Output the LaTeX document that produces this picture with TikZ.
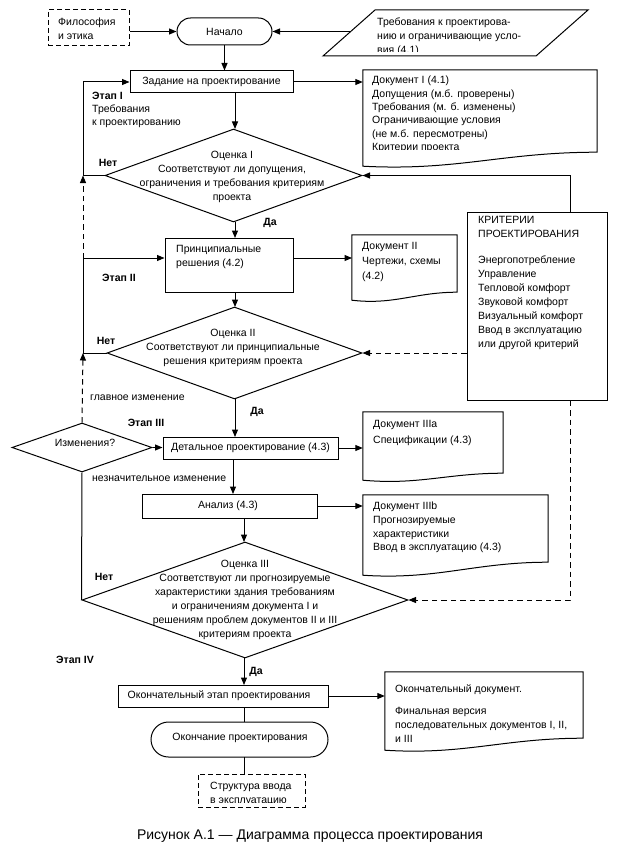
\documentclass[tikz,border=0pt]{standalone}
\usepackage{fontspec}
\setmainfont{Liberation Sans}
\usetikzlibrary{arrows.meta,shapes.geometric,calc}
\newcommand\ft{\fontsize{10.5pt}{14pt}\selectfont}
\newcommand\docout[3]{%
  \draw[ln] (#1.north west) -- (#1.north east) -- (#1.south east)
    .. controls ($(#1.south east)+(-#3,0)$) and ($(#1.south west)+(#3,#2+5)$) .. ($(#1.south west)+(0,#2)$) -- cycle;}
\tikzset{
  ln/.style={line width=1pt},
  frame/.style={rectangle, inner sep=0pt, draw=none},
  boxf/.style={rectangle, inner sep=0pt, draw, line width=1pt},
  dmd/.style={diamond, inner sep=0pt, draw, line width=1pt},
  txt/.style={inner sep=0pt, font=\ft, align=left},
  ctxt/.style={inner sep=0pt, font=\ft, align=center},
  btxt/.style={inner sep=0pt, font=\ft\bfseries},
  arr/.style={ln, -{Triangle[length=7.5pt,width=6pt]}},
  darr/.style={ln, dash pattern=on 5.5pt off 4pt, -{Triangle[length=7.5pt,width=6pt]}},
}
\begin{document}
\begin{tikzpicture}[x=1pt,y=-1pt]
\useasboundingbox (0,0) rectangle (616,848);
\fill[white] (0,0) rectangle (616,848);

% ---- top row
\node[boxf, dash pattern=on 5pt off 3pt, minimum width=81pt, minimum height=36pt] (phil) at (88.5,28) {};
\node[txt, anchor=west] (philt) at (58,29) {Философия\\и этика};
\node[boxf, rounded corners=13.5pt, minimum width=95pt, minimum height=27pt] (nach) at (224.5,31.5) {};
\node[ctxt] (nacht) at (nach) {Начало};
\draw[ln] (375,10) -- (588,10) -- (536,56) -- (323,56) -- cycle;
\coordinate (parL) at (350,31.5);
\begin{scope}
\clip (320,0) rectangle (600,51.5);
\node[txt, anchor=west] (part) at (377,36.5) {Требования к проектирова-\\нию и ограничивающие усло-\\вия (4.1)};
\end{scope}
\draw[arr] (phil.east |- nach.west) -- (nach.west);
\draw[arr] (parL) -- (nach.east);

% ---- stage I
\node[boxf, minimum width=163pt, minimum height=22pt] (zad) at (211.5,82) {};
\node[ctxt] (zadt) at (zad) {Задание на проектирование};
\draw[arr] (nach.south) -- (nach.south |- zad.north);

\node[frame, minimum width=234pt, minimum height=82pt] (doc1) at (480,111) {};
\docout{doc1}{14}{95}
\begin{scope}
\clip (363,70) rectangle (597,149.5);
\node[txt, anchor=west, font=\fontsize{10.5pt}{13.4pt}\selectfont] (doc1t) at (372,114.5) {Документ I (4.1)\\Допущения (м.б. проверены)\\Требования (м. б. изменены)\\Ограничивающие условия\\(не м.б. пересмотрены)\\Критерии проекта};
\end{scope}
\draw[arr] (zad.east) -- (zad.east -| doc1.west);

\node[txt, anchor=west, font=\fontsize{10.5pt}{13pt}\selectfont] (et1) at (92,110) {\textbf{Этап I}\\Требования\\к проектированию};

\node[dmd, minimum width=257pt, minimum height=93pt] (o1) at (233.5,175.5) {};
\node[ctxt] (o1t) at (232,176.5) {Оценка I\\Соответствуют ли допущения,\\ограничения и требования критериям\\проекта};
\draw[arr] (235,93) -- (235,129);
\node[btxt] (no1) at (108,163) {Нет};
\node[btxt] (yes1) at (270,223) {Да};
\coordinate (j1) at (83,175.5);
\draw[arr] (o1.west) -- (j1) |- (zad.west);

% ---- criteria box
\node[boxf, minimum width=140pt, minimum height=188pt] (crit) at (537,306) {};
\node[txt, anchor=north west] (critt) at (478,216) {КРИТЕРИИ\\ПРОЕКТИРОВАНИЯ\\[12pt]Энергопотребление\\Управление\\Тепловой комфорт\\Звуковой комфорт\\Визуальный комфорт\\Ввод в эксплуатацию\\или другой критерий};
\draw[arr] ([xshift=33pt]crit.north) |- (o1.east);

% ---- stage II
\node[boxf, minimum width=128pt, minimum height=54pt] (pr) at (229,265) {};
\node[txt, anchor=west] (prt) at (176,257) {Принципиальные\\решения (4.2)};
\draw[arr] (235,222) -- (235,238);
\node[btxt] (et2) at (119,278) {Этап II};

\node[frame, minimum width=105pt, minimum height=57pt] (doc2) at (404.5,263.5) {};
\docout{doc2}{8}{42}
\node[txt, anchor=west, font=\fontsize{10.5pt}{15pt}\selectfont] (doc2t) at (362,262) {Документ II\\Чертежи, схемы\\(4.2)};
\draw[arr] (293,258) -- (352,258);

\node[dmd, minimum width=255pt, minimum height=92pt] (o2) at (234.5,353) {};
\node[ctxt] (o2t) at (233,347.5) {Оценка II\\Соответствуют ли принципиальные\\решения критериям проекта};
\draw[arr] (235,292) -- (235,307);
\node[btxt] (no2) at (106,341) {Нет};
\node[btxt] (yes2) at (257,412) {Да};
\coordinate (j2) at (83,258);
\coordinate (j3) at (83,353);
\draw[arr] (o2.west) -- (j3) -- (j2) -- (pr.west |- j2);
\draw[darr] (j2) -- (j1);
\draw[darr] (crit.west |- o2.east) -- (o2.east);

\node[txt, anchor=west] (glav) at (90,398) {главное изменение};
\node[btxt] (et3) at (146,423) {Этап III};

% ---- stage III
\node[boxf, minimum width=175pt, minimum height=22pt] (det) at (250.5,448) {};
\node[ctxt] (dett) at (det) {Детальное проектирование (4.3)};
\draw[arr] (235,399) -- (235,437);

\node[dmd, minimum width=140pt, minimum height=49pt] (chg) at (82,447.5) {};
\node[ctxt] (chgt) at (85,443) {Изменения?};
\draw[arr] (chg.east) -- (chg.east -| det.west);
\draw[darr] (chg.north) -- (j3);

\node[frame, minimum width=140pt, minimum height=61pt] (doc3a) at (433,442.5) {};
\docout{doc3a}{7}{56}
\node[txt, anchor=west, font=\fontsize{10.5pt}{16pt}\selectfont] (doc3at) at (373,433) {Документ IIIa\\Спецификации (4.3)};
\draw[arr] (det.east) -- (det.east -| doc3a.west);

\node[txt, anchor=west] (nezn) at (92,479) {незначительное изменение};

\node[boxf, minimum width=175pt, minimum height=24pt] (an) at (229.5,506) {};
\node[ctxt] (ant) at (228,506) {Анализ (4.3)};
\draw[arr] (233,459) -- (233,494);

\node[frame, minimum width=185pt, minimum height=67pt] (doc3b) at (455.5,528.5) {};
\docout{doc3b}{13}{74}
\node[txt, anchor=west, font=\fontsize{10.5pt}{13.7pt}\selectfont] (doc3bt) at (373,527.5) {Документ IIIb\\Прогнозируемые\\характеристики\\Ввод в эксплуатацию (4.3)};
\draw[arr] (an.east) -- (an.east -| doc3b.west);

\node[dmd, minimum width=326pt, minimum height=116pt] (o3) at (245,600) {};
\node[ctxt] (o3t) at (245,600) {Оценка III\\Соответствуют ли прогнозируемые\\характеристики здания требованиям\\и ограничениям документа I и\\решениям проблем документов II и III\\критериям проекта};
\draw[arr] (244,518) -- (244,542);
\draw[ln] (chg.south) -- (o3.west);
\node[btxt] (no3) at (104,577) {Нет};
\draw[darr] ([xshift=33pt]crit.south) |- (o3.east);

% ---- stage IV
\node[btxt] (et4) at (75,660) {Этап IV};
\node[boxf, minimum width=210pt, minimum height=22pt] (fin) at (223,696) {};
\node[ctxt] (fint) at (219,696) {Окончательный этап проектирования};
\draw[arr] (244,658) -- (244,685);
\node[btxt] (yes3) at (256,672) {Да};

\node[frame, minimum width=198pt, minimum height=66pt] (docf) at (484,705) {};
\docout{docf}{12}{80}
\node[txt, anchor=west] (docft) at (395,714) {Окончательный документ.\\[8pt]Финальная версия\\последовательных документов I, II,\\и III};
\draw[arr] (fin.east) -- (fin.east -| docf.west);

\node[boxf, rounded corners=17.5pt, minimum width=177pt, minimum height=35pt] (endn) at (239.5,739.5) {};
\node[ctxt] (endt) at (240,738) {Окончание проектирования};
\draw[ln] (244,707) -- (244,722);

\node[boxf, dash pattern=on 5pt off 3pt, minimum width=107pt, minimum height=33pt] (str) at (251.5,790.5) {};
\begin{scope}
\clip (198,774) rectangle (305,802);
\node[txt, anchor=west] (strt) at (210,794) {Структура ввода\\в эксплуатацию};
\end{scope}
\draw[ln] (244,757) -- (244,774);

\node[inner sep=0pt, font=\fontsize{14pt}{16pt}\selectfont] (cap) at (310,836) {Рисунок А.1 — Диаграмма процесса проектирования};
\end{tikzpicture}
\end{document}
